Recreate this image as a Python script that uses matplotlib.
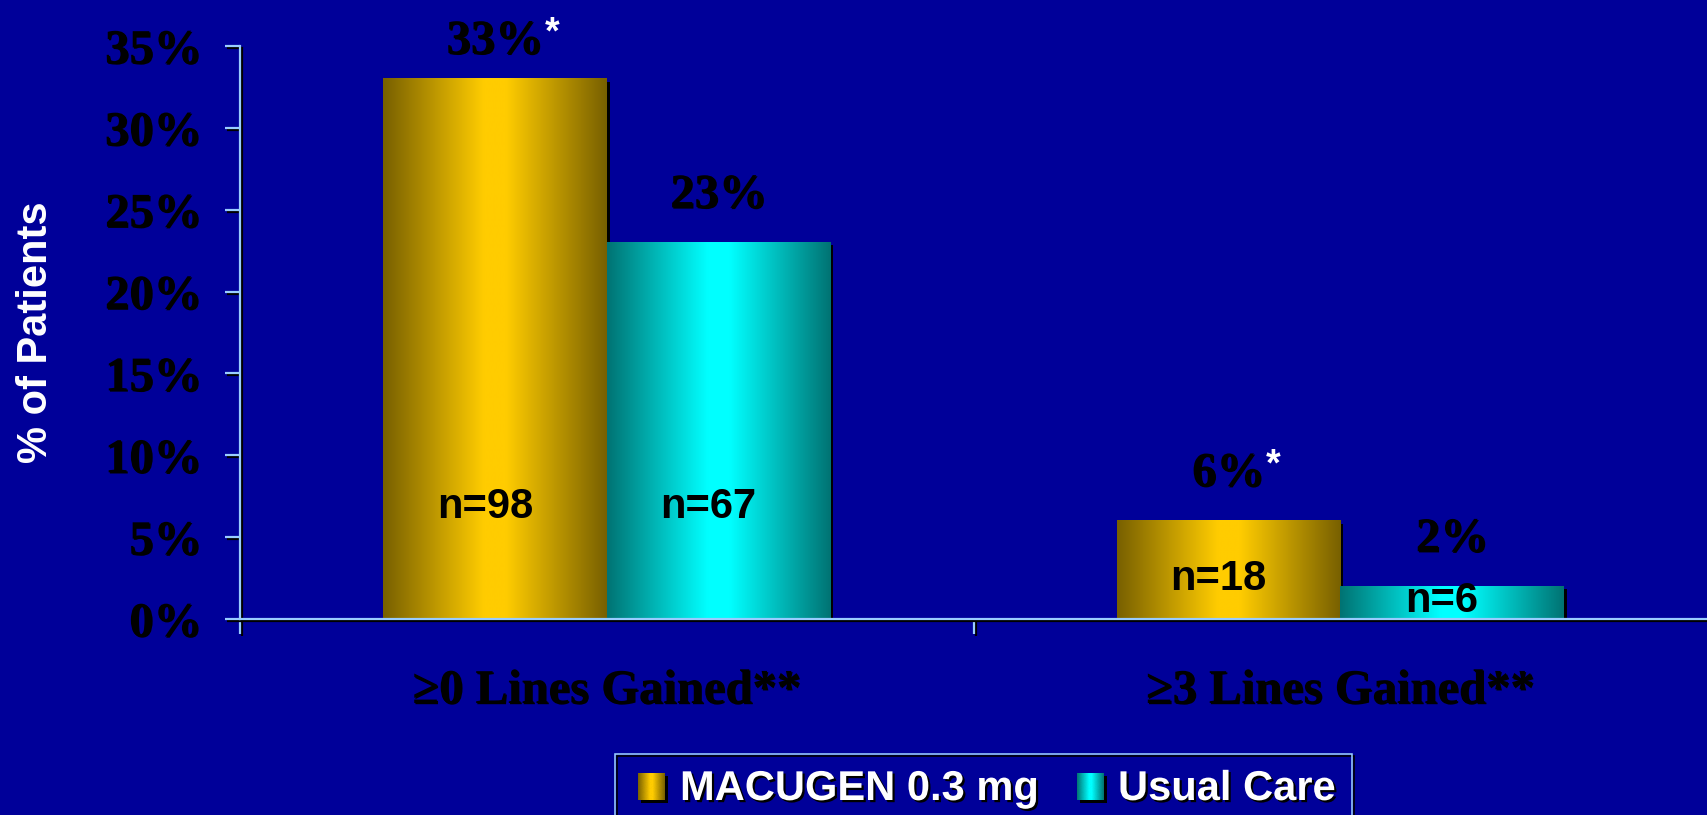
import numpy as np
import matplotlib
matplotlib.use("Agg")
import matplotlib.pyplot as plt
import matplotlib.patheffects as pe
from matplotlib.colors import LinearSegmentedColormap
from matplotlib.patches import Rectangle
from matplotlib.image import BboxImage
from matplotlib.transforms import Bbox, TransformedBbox

# ---- data -------------------------------------------------------------
categories = ["\u22650 Lines Gained**", "\u22653 Lines Gained**"]
series_names = ["MACUGEN 0.3 mg", "Usual Care"]
macugen_pct = [33, 6]
usual_care_pct = [23, 2]
macugen_n = [98, 18]
usual_care_n = [67, 6]
macugen_mark = ["*", "*"]
usual_care_mark = ["", ""]
y_ticks = [0, 5, 10, 15, 20, 25, 30, 35]

# ---- style ------------------------------------------------------------
W, H, DPI = 1707, 815, 100
PT = 72 / DPI                     # points per pixel
BG = "#000099"
AXIS_BLUE = "#99ccff"
SERIF = "Liberation Serif"
SANS = "Liberation Sans"

gold_cmap = LinearSegmentedColormap.from_list(
    "gold", [(0.0, "#786000"), (0.45, "#ffcc00"), (0.55, "#ffcc00"), (1.0, "#786000")])
cyan_cmap = LinearSegmentedColormap.from_list(
    "cyan", [(0.0, "#007373"), (0.45, "#00ffff"), (0.55, "#00ffff"), (1.0, "#007373")])
gradient = np.linspace(0, 1, 256)[None, :]

fig = plt.figure(figsize=(W / DPI, H / DPI), dpi=DPI, facecolor=BG)
ax = fig.add_axes([240 / W, 196 / H, (W - 240) / W, 573 / H])
ax.set_facecolor(BG)

x = np.arange(len(categories))
bar_w = 0.305
bar_shadow = [pe.SimplePatchShadow(offset=(3 * PT, -3 * PT), shadow_rgbFace="k", alpha=1.0)]
text_shadow = [pe.withSimplePatchShadow(offset=(1.2 * PT, -1.2 * PT), shadow_rgbFace="k", alpha=1.0)]

series = [
    (macugen_pct, macugen_n, macugen_mark, -bar_w / 2, gold_cmap),
    (usual_care_pct, usual_care_n, usual_care_mark, bar_w / 2, cyan_cmap),
]

for (vals, ns, marks, offs, cmap), name in zip(series, series_names):
    bars = ax.bar(x + offs, vals, bar_w, facecolor="none", edgecolor="none",
                  zorder=1, label=name)
    for b, v, n, mark in zip(bars, vals, ns, marks):
        b.set_path_effects(bar_shadow)
        x0, w, h = b.get_x(), b.get_width(), b.get_height()
        ax.imshow(gradient, cmap=cmap, extent=(x0, x0 + w, 0, h),
                  aspect="auto", interpolation="bicubic", zorder=2)
        xc = x0 + w / 2

        # percentage above the bar
        label_y = min(v + 2.14, 34.55)
        t = ax.text(xc, label_y, f"{v}%", ha="center", va="baseline",
                    fontfamily=SERIF, fontweight="bold", fontsize=35,
                    color="k", path_effects=text_shadow, zorder=5)
        if mark:
            ax.annotate(mark, xy=(1, 0), xycoords=t, xytext=(1, 20),
                        textcoords="offset pixels", ha="left", va="baseline",
                        color="white", fontsize=27, fontweight="bold",
                        fontfamily=SANS, zorder=6)

        # sample size inside the bar
        n_y = min(6.17, 0.335 * v - 0.24)
        ax.text(xc - 10 / 734, n_y, f"n={n}", ha="center", va="baseline",
                fontfamily=SANS, fontweight="bold", fontsize=30,
                color="k", zorder=5)

ax.set_xlim(-0.5, 1.5)
ax.set_ylim(0, 35)

# ---- axes -------------------------------------------------------------
for s in ["top", "right"]:
    ax.spines[s].set_visible(False)
line_shadow = [pe.SimpleLineShadow(offset=(2 * PT, -2 * PT), shadow_color="k", alpha=1.0),
               pe.Normal()]
for s in ["left", "bottom"]:
    ax.spines[s].set_color(AXIS_BLUE)
    ax.spines[s].set_linewidth(2.2 * PT)
    ax.spines[s].set_path_effects(line_shadow)
    ax.spines[s].set_zorder(3)

ax.set_yticks(y_ticks, [f"{t}%" for t in y_ticks])
ax.tick_params(axis="y", direction="out", length=15 * PT, width=2.2 * PT,
               color=AXIS_BLUE, pad=23 * PT, labelsize=35, labelcolor="k")
for lab in ax.get_yticklabels():
    lab.set_fontfamily(SERIF)
    lab.set_fontweight("bold")
    lab.set_path_effects(text_shadow)

ax.set_xticks(x, categories)
ax.tick_params(axis="x", which="major", length=0, pad=50 * PT,
               labelsize=35, labelcolor="k")
for lab in ax.get_xticklabels():
    lab.set_fontfamily(SERIF)
    lab.set_fontweight("bold")
    lab.set_path_effects(text_shadow)
ax.set_xticks([-0.5, 0.5], minor=True)
ax.tick_params(axis="x", which="minor", direction="out", length=15 * PT,
               width=2.2 * PT, color=AXIS_BLUE)

for tk in ax.yaxis.get_major_ticks() + ax.xaxis.get_minor_ticks():
    tk.tick1line.set_path_effects(line_shadow)

ax.set_ylabel("% of Patients", color="white", fontsize=30, fontweight="bold",
              fontfamily=SANS, va="center")
ax.yaxis.set_label_coords(-204 / (W - 240), 0.5)

# ---- legend -----------------------------------------------------------
def fx(px):
    return px / W


def fy(py):
    return (H - py) / H


frame = Rectangle((fx(615), fy(830)), fx(1352) - fx(615), fy(754) - fy(830),
                  transform=fig.transFigure, facecolor="none",
                  edgecolor=AXIS_BLUE, linewidth=1.6 * PT, zorder=10)
frame.set_path_effects(line_shadow)
fig.add_artist(frame)

legend_items = [
    (series_names[0], gold_cmap, 638, 680),
    (series_names[1], cyan_cmap, 1077, 1118),
]
for name, cmap, sx, tx in legend_items:
    sw = Rectangle((fx(sx + 3), fy(803)), fx(27), fy(773) - fy(800),
                   transform=fig.transFigure, facecolor="k", edgecolor="none", zorder=10)
    fig.add_artist(sw)
    bb = TransformedBbox(Bbox.from_extents(fx(sx), fy(800), fx(sx + 27), fy(773)),
                         fig.transFigure)
    img = BboxImage(bb, cmap=cmap, interpolation="bicubic", zorder=11)
    img.set_data(gradient)
    fig.add_artist(img)
    fig.text(fx(tx), fy(800), name, ha="left", va="baseline", color="white",
             fontsize=30, fontweight="bold", fontfamily=SANS, zorder=12,
             path_effects=[pe.withSimplePatchShadow(offset=(2.2 * PT, -2.2 * PT),
                                                    shadow_rgbFace="k", alpha=1.0)])

fig.savefig("out.png", dpi=DPI, facecolor=BG)
